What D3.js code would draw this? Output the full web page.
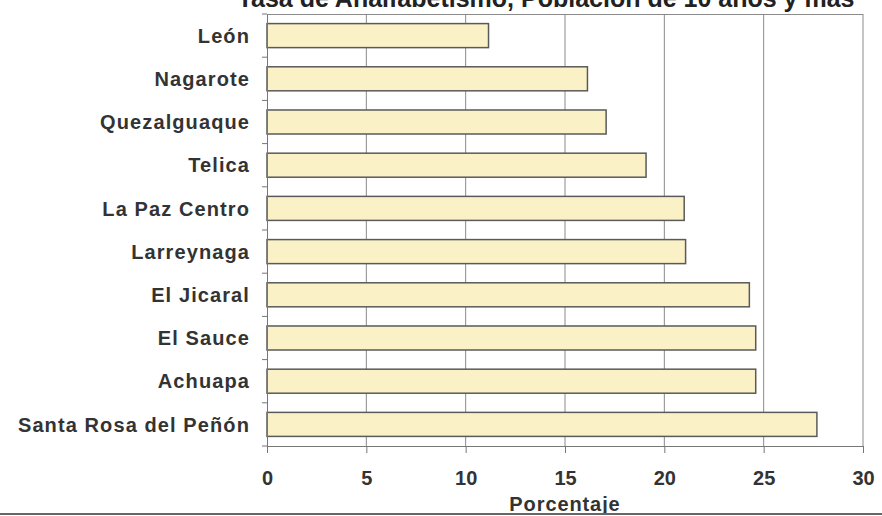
<!DOCTYPE html>
<html><head><meta charset="utf-8">
<script src="https://cdn.jsdelivr.net/npm/d3@7"></script>
<style>body{margin:0;background:#fff;} svg{display:block;font-family:"Liberation Sans",Arial,sans-serif;}</style>
</head><body>
<svg id="c" width="882" height="516"></svg>
<script>
const categories = ["León","Nagarote","Quezalguaque","Telica","La Paz Centro","Larreynaga","El Jicaral","El Sauce","Achuapa","Santa Rosa del Peñón"];
const values = [11.15,16.13,17.07,19.08,21.0,21.07,24.28,24.6,24.6,27.68];
const xTicks = [0,5,10,15,20,25,30];
const title = "Tasa de Analfabetismo, Población de 10 años y más";
const xLabel = "Porcentaje";

const svg = d3.select("#c");
const m = {l:267, r:863, t:14, b:446};
const x = d3.scaleLinear().domain([0,30]).range([m.l,m.r]);
const y = d3.scaleBand().domain(categories).range([m.t,m.b]).paddingInner(0.444).paddingOuter(0.222);
const yb = d3.scaleBand().domain(categories).range([m.t,m.b]);

// title (clipped at top, as in the reference)
svg.append("text").attr("x",546).attr("y",7).attr("text-anchor","middle")
  .attr("font-size",25).attr("font-weight","bold").attr("fill","#222").text(title);

// gridlines
svg.append("g").selectAll("line").data(xTicks.slice(1)).join("line")
  .attr("x1",d=>x(d)).attr("x2",d=>x(d)).attr("y1",m.t).attr("y2",m.b)
  .attr("stroke","#8a8a8a").attr("stroke-width",1);
// top border
svg.append("line").attr("x1",m.l).attr("x2",m.r).attr("y1",m.t+0.5).attr("y2",m.t+0.5).attr("stroke","#8a8a8a");

// bars
svg.append("g").selectAll("rect").data(values).join("rect")
  .attr("x",x(0)).attr("y",(d,i)=>y(categories[i]))
  .attr("width",d=>x(d)-x(0)).attr("height",y.bandwidth())
  .attr("fill","#fbf1c6").attr("stroke","#5a5a5a").attr("stroke-width",1.5);

// x axis
const xa = svg.append("g").attr("transform",`translate(0,${m.b})`)
  .call(d3.axisBottom(x).tickValues(xTicks).tickSize(7).tickSizeOuter(0).tickPadding(18));
xa.select(".domain").attr("stroke","#777");
xa.selectAll(".tick line").attr("stroke","#777");
xa.selectAll("text").attr("font-size",20).attr("font-weight","bold").attr("fill","#333")
  .attr("font-family","'Liberation Sans',Arial,sans-serif");

// y axis
const ya = svg.append("g").attr("transform",`translate(${m.l},0)`)
  .call(d3.axisLeft(yb).tickSize(0).tickPadding(17));
ya.select(".domain").attr("stroke","#777");
ya.selectAll("text").attr("font-size",20).attr("font-weight","bold").attr("fill","#333")
  .attr("letter-spacing","1.1px").attr("dy","0.36em")
  .attr("font-family","'Liberation Sans',Arial,sans-serif");
// boundary ticks
const bounds = categories.map(c=>yb(c)).concat([m.b]);
svg.append("g").selectAll("line").data(bounds).join("line")
  .attr("x1",m.l-5).attr("x2",m.l).attr("y1",d=>d).attr("y2",d=>d).attr("stroke","#777");

svg.append("text").attr("x",565).attr("y",511).attr("text-anchor","middle")
  .attr("font-size",20).attr("font-weight","bold").attr("fill","#333")
  .attr("letter-spacing","0.9px").text(xLabel);

// bottom rule
svg.append("line").attr("x1",0).attr("x2",882).attr("y1",514).attr("y2",514).attr("stroke","#666").attr("stroke-width",2);
</script>
</body></html>
